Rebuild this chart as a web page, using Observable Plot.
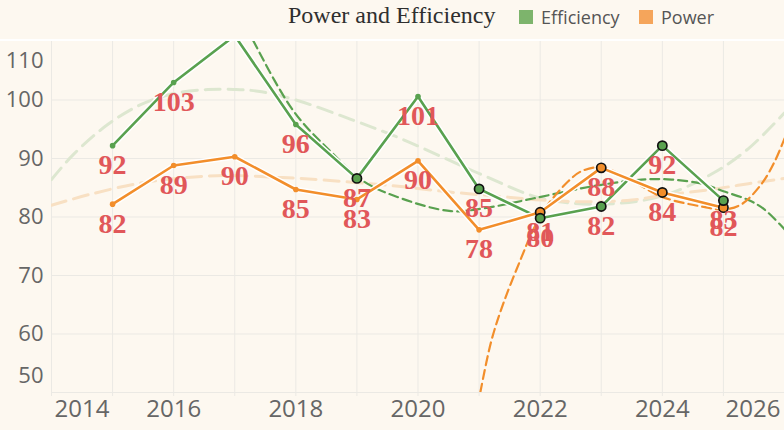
<!DOCTYPE html>
<html>
<head>
<meta charset="utf-8">
<script src="https://cdn.jsdelivr.net/npm/d3@7"></script>
<script src="https://cdn.jsdelivr.net/npm/@observablehq/plot@0.6"></script>
<style>
  html, body { margin: 0; padding: 0; background: #fdf8f0; }
  #hdr { position: relative; width: 784px; height: 39px; border-bottom: 2px solid #ffffff; }
  #hdr .title { position: absolute; top: 3px; font-family: "Liberation Serif", serif; font-size: 24px; line-height: 24px; color: #2f2f2f; white-space: nowrap; }
  #hdr .sw { position: absolute; top: 9.5px; width: 14px; height: 14px; }
  #hdr .lg { position: absolute; top: 8px; font-family: "Open Sans", sans-serif; font-size: 18px; line-height: 18px; color: #555; white-space: nowrap; }
  #chart svg { display: block; }
</style>
</head>
<body>
<div id="hdr"></div>
<div id="chart"></div>
<script>
// ---- data ----
const title = "Power and Efficiency";
const seriesNames = ["Efficiency", "Power"];
const years = [2015, 2016, 2017, 2018, 2019, 2020, 2021, 2022, 2023, 2024, 2025];
const efficiency = [92.2, 103.0, 111.0, 95.8, 86.6, 100.6, 84.8, 79.8, 81.8, 92.2, 82.8];
const power = [82.2, 88.8, 90.3, 84.7, 83.0, 89.6, 77.8, 80.8, 88.4, 84.2, 81.6];
const efficiencyHighlight = [2019, 2021, 2022, 2023, 2024, 2025];
const powerHighlight = [2022, 2023, 2024, 2025];

// trend lines
const effSmoothYears = [2014.0, 2014.36, 2014.92, 2015.46, 2016.0, 2016.56, 2016.98, 2017.38, 2017.97, 2018.9, 2019.72, 2021.03, 2022.02, 2023.0, 2024.0, 2024.85, 2025.41, 2026.0];
const effSmoothValues = [86.4, 90.7, 95.8, 99.2, 101.1, 101.8, 101.8, 101.5, 100.1, 96.7, 93.4, 87.3, 83.2, 82.2, 83.6, 87.6, 91.7, 97.8];
const powSmoothYears = [2014.0, 2014.64, 2015.46, 2016.28, 2016.93, 2017.64, 2018.08, 2019.72, 2020.49, 2021.36, 2022.02, 2022.8, 2023.5, 2024.0, 2024.8, 2025.41, 2026.0];
const powSmoothValues = [82.0, 83.9, 85.8, 86.8, 87.1, 86.8, 86.6, 85.2, 84.3, 83.5, 82.9, 82.6, 82.9, 83.7, 84.7, 85.7, 86.6];
const effFitYears = [2017.1, 2017.31, 2017.97, 2018.57, 2019.11, 2019.72, 2020.54, 2021.08, 2021.9, 2022.67, 2023.0, 2023.66, 2024.15, 2024.64, 2025.0, 2025.41, 2025.67, 2026.0];
const effFitValues = [114.5, 110.0, 98.0, 91.2, 86.1, 83.2, 81.0, 81.5, 83.2, 84.9, 85.5, 86.4, 86.4, 85.7, 84.4, 82.9, 81.3, 77.9];
const powFitYears = [2021.02, 2021.2, 2021.41, 2021.69, 2021.85, 2022.02, 2022.13, 2022.46, 2022.67, 2023.0, 2023.44, 2023.98, 2024.64, 2025.02, 2025.3, 2025.62, 2025.84, 2026.0];
const powFitValues = [50.0, 58.8, 65.6, 73.0, 77.0, 80.5, 82.2, 86.1, 87.8, 88.5, 86.6, 83.5, 81.8, 81.3, 82.2, 85.6, 89.5, 93.4];

const gridYears = [2014, 2015, 2016, 2017, 2018, 2019, 2020, 2021, 2022, 2023, 2024, 2025, 2026];
const xTickLabels = [2014, 2016, 2018, 2020, 2022, 2024, 2026];
const yTickLabels = [50, 60, 70, 80, 90, 100, 110];

// ---- styles ----
const GREEN = "#59a14f", ORANGE = "#f28e2b";
const seriesColors = ["#7db46c", "#f5a55b"];

// ---- header ----
const hdr = document.getElementById("hdr");
const add = (cls, left, text, bg) => {
  const d = document.createElement("div");
  d.className = cls; d.style.left = left + "px";
  if (text) d.textContent = text;
  if (bg) d.style.background = bg;
  hdr.appendChild(d);
};
add("title", 288, title);
add("sw", 519, null, seriesColors[0]);
add("lg", 541, seriesNames[0]);
add("sw", 639, null, seriesColors[1]);
add("lg", 661, seriesNames[1]);

// ---- tables ----
const effData = years.map((y, i) => ({year: y, value: efficiency[i]}));
const powData = years.map((y, i) => ({year: y, value: power[i]}));
const zip = (xs, ys) => xs.map((x, i) => ({year: x, value: ys[i]}));
const effSmooth = zip(effSmoothYears, effSmoothValues);
const powSmooth = zip(powSmoothYears, powSmoothValues);
const effFit = zip(effFitYears, effFitValues);
const powFit = zip(powFitYears, powFitValues);

const yMin = yTickLabels[0], yMax = yTickLabels[yTickLabels.length - 1];
const inRange = d => d.value >= yMin && d.value <= yMax;
const labelFont = {fill: "#e15759", fontFamily: "Liberation Serif", fontWeight: "bold", fontSize: 28, dy: 19.5};
const axisFont = {fill: "#666", fontFamily: "Open Sans"};

const chart = Plot.plot({
  width: 784,
  height: 389,
  marginTop: 0,
  marginBottom: 38,
  marginLeft: 51,
  marginRight: 0,
  x: {domain: [gridYears[0], gridYears[gridYears.length - 1]], axis: null},
  y: {domain: [yMin, yMax], axis: null},
  style: {background: "#fdf8f0", overflow: "visible", fontFamily: "Open Sans"},
  marks: [
    // grid
    Plot.ruleX(gridYears, {x: d => d, stroke: "#ebe9e4", strokeWidth: 1, insetBottom: -4}),
    Plot.ruleY(yTickLabels.slice(0, -1), {y: d => d, stroke: "#ebe9e4", strokeWidth: 1}),
    // smooth (light) trends
    Plot.line(effSmooth, {x: "year", y: "value", stroke: "#dde7d0", strokeWidth: 3, strokeDasharray: "15,8", curve: "catmull-rom", clip: true}),
    Plot.line(powSmooth, {x: "year", y: "value", stroke: "#f8e0c3", strokeWidth: 3, strokeDasharray: "15,8", curve: "catmull-rom", clip: true}),
    // fitted (dark) trends
    Plot.line(effFit, {x: "year", y: "value", stroke: GREEN, strokeWidth: 2.2, strokeDasharray: "9,5", curve: "catmull-rom", clip: true}),
    Plot.line(powFit, {x: "year", y: "value", stroke: ORANGE, strokeWidth: 2.2, strokeDasharray: "9,5", curve: "catmull-rom", clip: true}),
    // series lines with white halo
    Plot.line(effData, {x: "year", y: "value", stroke: "white", strokeWidth: 5.5, clip: true}),
    Plot.line(effData, {x: "year", y: "value", stroke: GREEN, strokeWidth: 2.6, clip: true}),
    Plot.line(powData, {x: "year", y: "value", stroke: "white", strokeWidth: 5.5, clip: true}),
    Plot.line(powData, {x: "year", y: "value", stroke: ORANGE, strokeWidth: 2.6, clip: true}),
    // small dots
    Plot.dot(effData.filter(d => !efficiencyHighlight.includes(d.year)), {x: "year", y: "value", r: 2.8, fill: GREEN, clip: true}),
    Plot.dot(powData.filter(d => !powerHighlight.includes(d.year)), {x: "year", y: "value", r: 2.8, fill: ORANGE, clip: true}),
    // highlighted dots
    Plot.dot(powData.filter(d => powerHighlight.includes(d.year)), {x: "year", y: "value", r: 4.6, fill: ORANGE, stroke: "#111", strokeWidth: 1.7}),
    Plot.dot(effData.filter(d => efficiencyHighlight.includes(d.year)), {x: "year", y: "value", r: 4.6, fill: GREEN, stroke: "#111", strokeWidth: 1.7}),
    // value labels
    Plot.text(effData.filter(inRange), {x: "year", y: "value", text: d => String(Math.round(d.value)), ...labelFont}),
    Plot.text(powData.filter(inRange), {x: "year", y: "value", text: d => String(Math.round(d.value)), ...labelFont}),
    // y axis labels
    Plot.text(yTickLabels.slice(1, -1), {y: d => d, text: d => String(d), frameAnchor: "left", textAnchor: "end", dx: -8, fontSize: 22, ...axisFont}),
    Plot.text([yMax], {y: d => d, text: d => String(d), frameAnchor: "left", textAnchor: "end", dx: -8, dy: 19, fontSize: 22, ...axisFont}),
    Plot.text([yMin], {y: d => d, text: d => String(d), frameAnchor: "left", textAnchor: "end", dx: -8, dy: -17, fontSize: 22, ...axisFont}),
    // x axis labels
    Plot.text(xTickLabels.slice(1, -1), {x: d => d, text: d => String(d), frameAnchor: "bottom", dy: 24, fontSize: 24, ...axisFont}),
    Plot.text(xTickLabels.slice(0, 1), {x: d => d, text: d => String(d), frameAnchor: "bottom", textAnchor: "start", dx: 3, dy: 24, fontSize: 24, ...axisFont}),
    Plot.text(xTickLabels.slice(-1), {x: d => d, text: d => String(d), frameAnchor: "bottom", textAnchor: "end", dx: -4, dy: 24, fontSize: 24, ...axisFont})
  ]
});
document.getElementById("chart").appendChild(chart);
</script>
</body>
</html>
